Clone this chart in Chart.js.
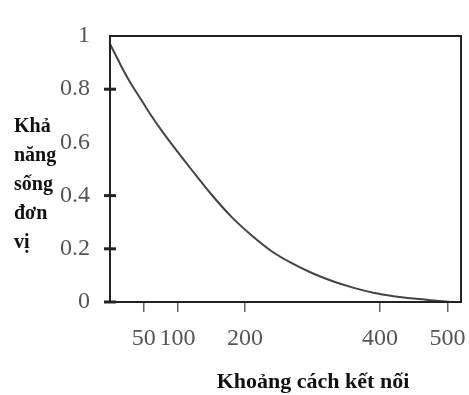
<!DOCTYPE html>
<html><head><meta charset="utf-8">
<script src="https://cdn.jsdelivr.net/npm/chart.js@4/dist/chart.umd.min.js"></script>
<style>html,body{margin:0;padding:0;background:#fff}canvas{display:block}</style>
</head><body>
<canvas id="c" width="469" height="395"></canvas>
<script>
// Data
const distance = [0, 10, 20, 30, 40, 50, 60, 75, 90, 120, 150, 180, 210, 240, 270, 300, 330, 360, 390, 420, 450, 480, 505];
const survival = [0.97, 0.92, 0.87, 0.825, 0.785, 0.745, 0.705, 0.65, 0.598, 0.50, 0.405, 0.32, 0.25, 0.19, 0.145, 0.108, 0.078, 0.054, 0.035, 0.022, 0.013, 0.006, 0.0];
const xTicks = [50, 100, 200, 400, 500];
const yTicks = [0, 0.2, 0.4, 0.6, 0.8, 1];
const yMarked = [0, 0.2, 0.4, 0.8];
const yTitleLines = ['Khả', 'năng', 'sống', 'đơn', 'vị'];
const xTitle = 'Khoảng cách kết nối';

const boxPlugin = {
  id: 'box',
  afterDraw(chart) {
    const {ctx, chartArea: a} = chart;
    ctx.save();
    ctx.strokeStyle = '#222';
    ctx.lineWidth = 2;
    ctx.strokeRect(a.left, a.top, a.right - a.left, a.bottom - a.top);
    // y tick marks crossing the axis
    const ys = chart.scales.y;
    ctx.lineWidth = 3;
    yMarked.forEach(v => {
      const p = ys.getPixelForValue(v);
      ctx.beginPath(); ctx.moveTo(a.left - 6, p); ctx.lineTo(a.left + 6, p); ctx.stroke();
    });
    // y title (stacked words)
    ctx.fillStyle = '#111';
    ctx.font = 'bold 20px "Liberation Serif"';
    ctx.textBaseline = 'alphabetic';
    ctx.textAlign = 'left';
    yTitleLines.forEach((t, i) => ctx.fillText(t, 14, 132 + i * 29));
    // x title
    ctx.font = 'bold 22px "Liberation Serif"';
    ctx.textAlign = 'center';
    ctx.fillText(xTitle, 313, 388);
    ctx.restore();
  }
};

new Chart(document.getElementById('c'), {
  type: 'line',
  data: {
    datasets: [{
      data: distance.map((d, i) => ({x: d, y: survival[i]})),
      borderColor: '#444',
      borderWidth: 2,
      pointRadius: 0,
      cubicInterpolationMode: 'monotone',
      fill: false
    }]
  },
  options: {
    responsive: false,
    animation: false,
    layout: {padding: {top: 36, right: 8, left: 0, bottom: 0}},
    plugins: {legend: {display: false}, tooltip: {enabled: false}},
    scales: {
      x: {
        type: 'linear', min: 0, max: 520,
        afterBuildTicks: s => { s.ticks = xTicks.map(v => ({value: v})); },
        afterFit: s => { s.height = 93; s.paddingLeft = 0; s.paddingRight = 0; },
        grid: {drawOnChartArea: false, tickLength: 10, color: '#666', lineWidth: 1.5},
        border: {display: true, color: '#222', width: 2},
        ticks: {color: '#555', font: {family: 'Liberation Serif', size: 24}, padding: 12, maxRotation: 0}
      },
      y: {
        type: 'linear', min: 0, max: 1,
        afterBuildTicks: s => { s.ticks = yTicks.map(v => ({value: v})); },
        afterFit: s => { s.width = 110; s.paddingTop = 0; s.paddingBottom = 0; },
        grid: {display: false},
        border: {display: true, color: '#222', width: 2},
        ticks: {color: '#555', font: {family: 'Liberation Serif', size: 24}, padding: 12,
          callback: v => String(v)}
      }
    }
  },
  plugins: [boxPlugin]
});
</script>
</body></html>
